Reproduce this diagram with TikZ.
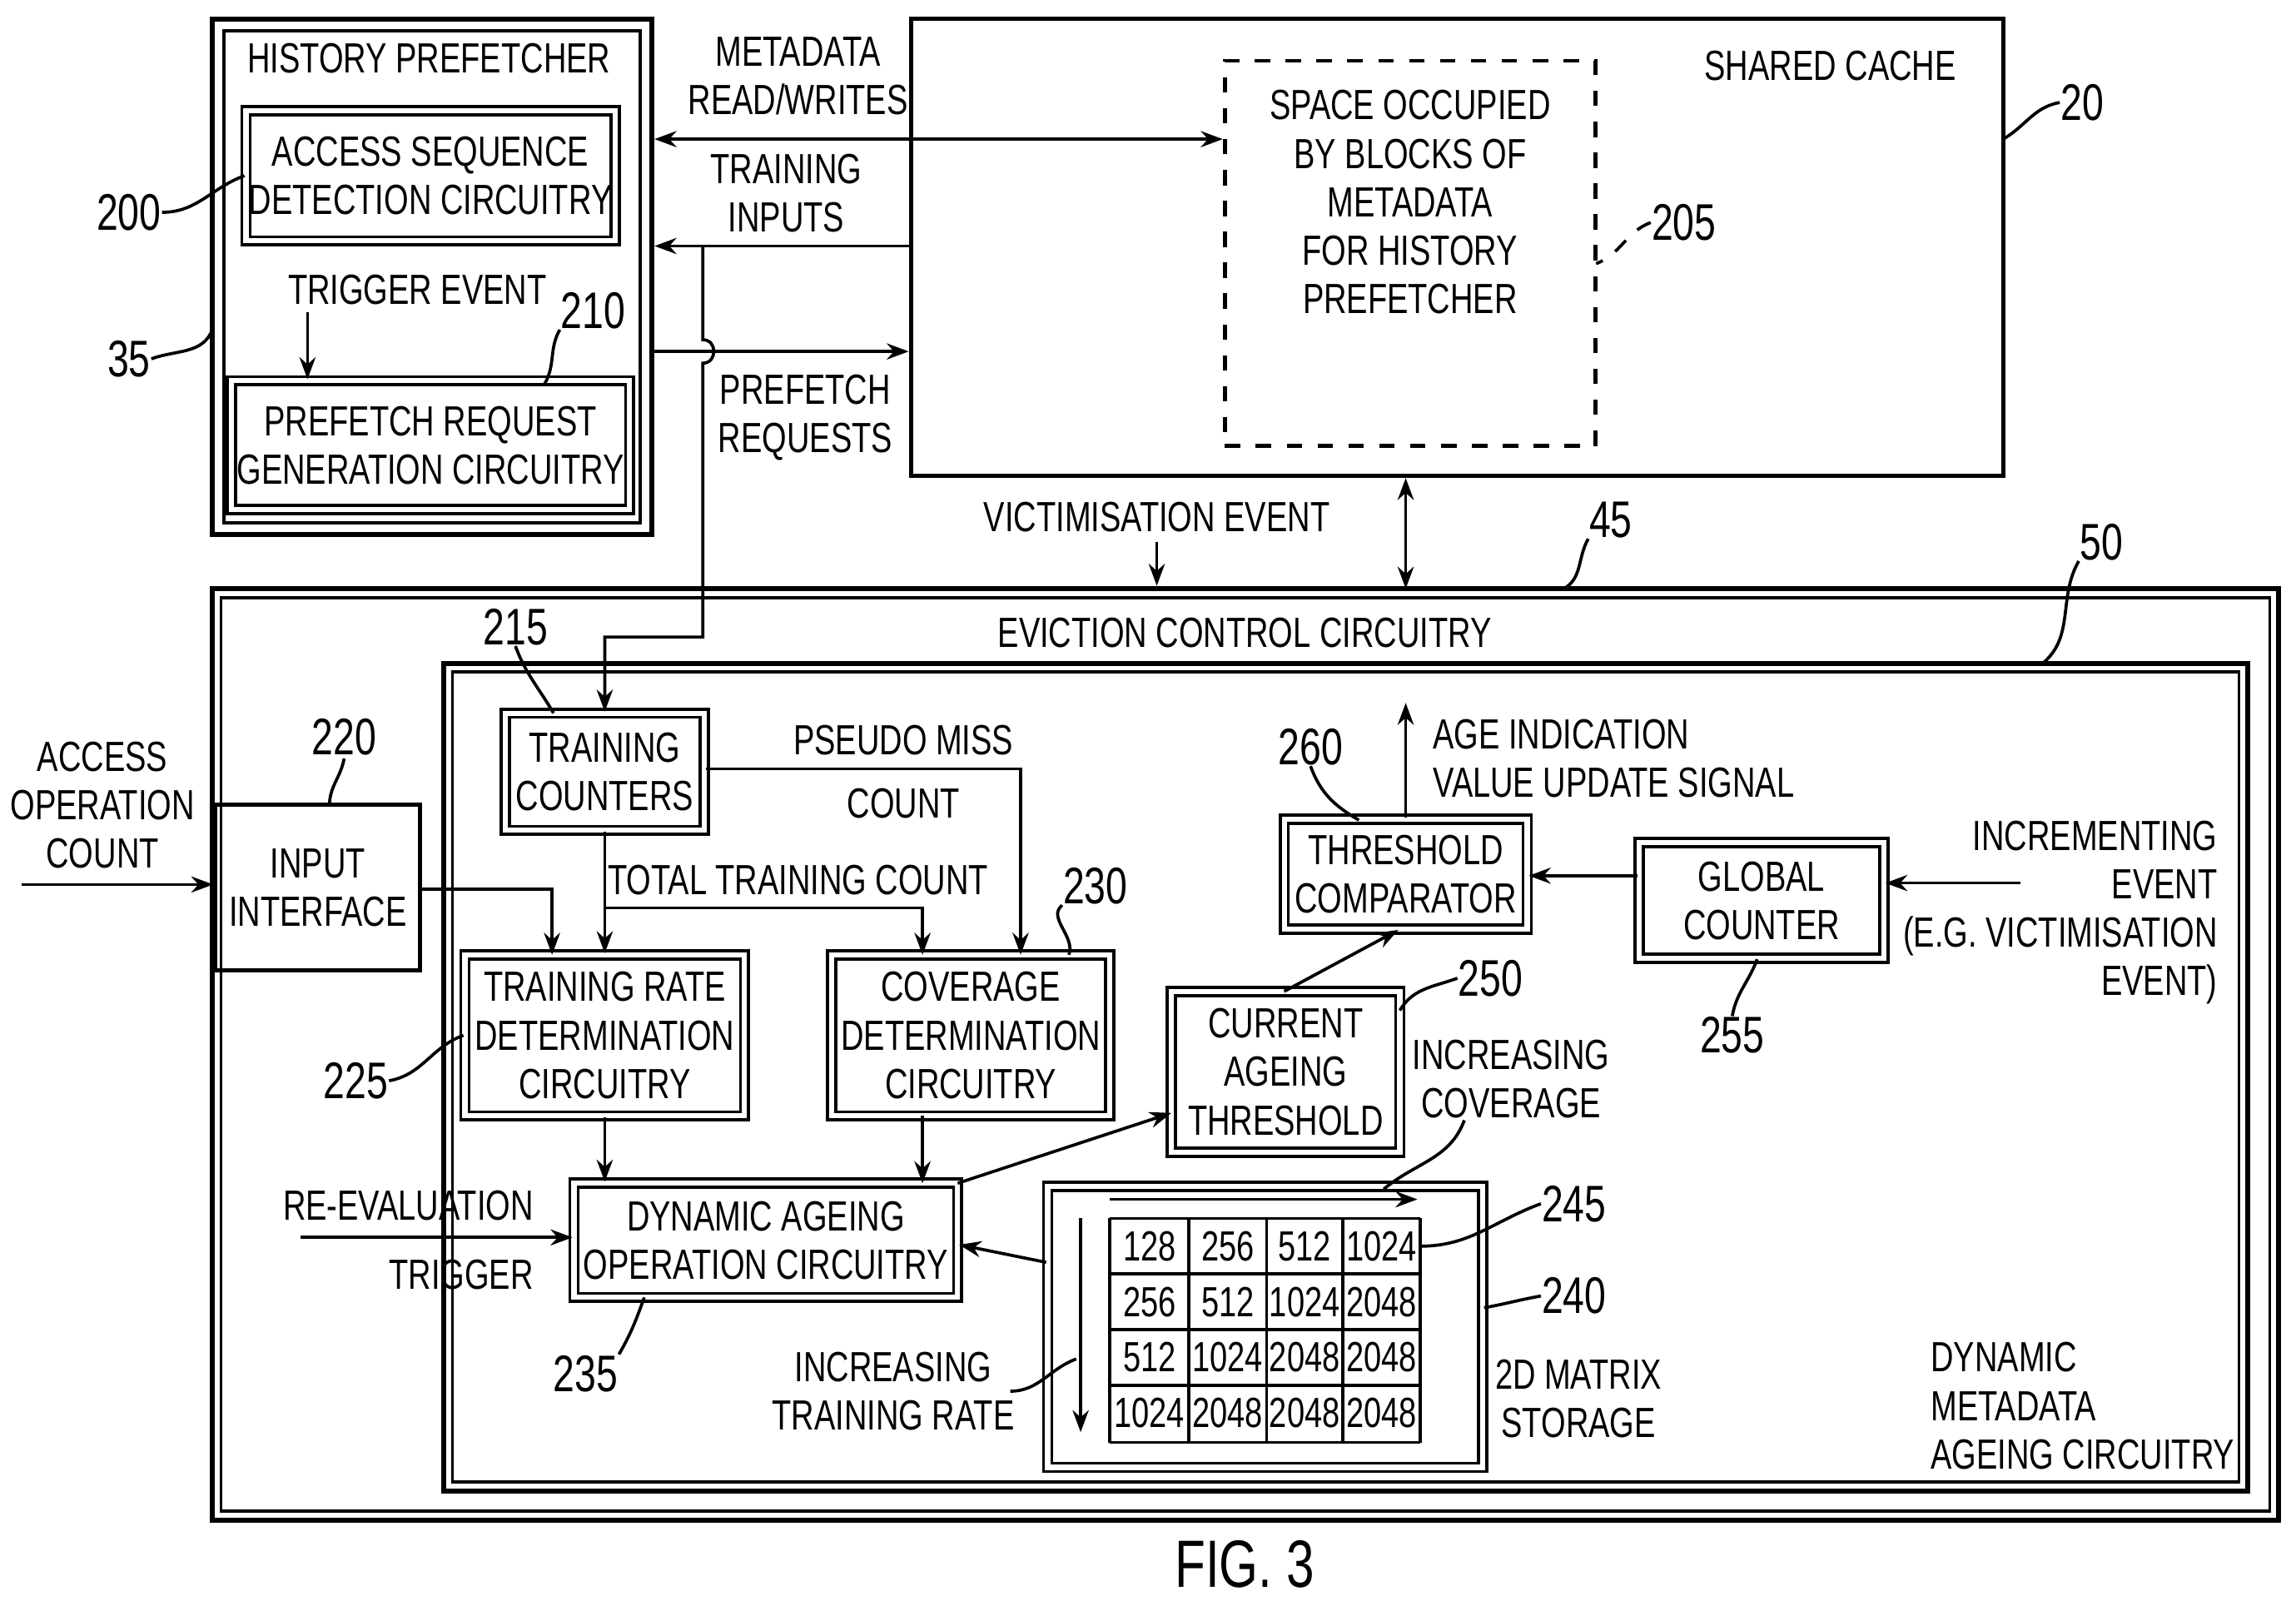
\documentclass[tikz,border=0pt]{standalone}
\usepackage{fontspec}
\setmainfont{Liberation Sans}[FakeStretch=0.75]
\usetikzlibrary{arrows.meta}
\begin{document}
\begin{tikzpicture}[x=0.1mm,y=-0.1mm,
  every node/.style={font=\fontsize{8.2}{9.4}\selectfont,align=center,inner sep=0pt},
  box/.style={draw,line width=0.6pt,double,double distance=0.35mm},
  sbox/.style={draw,line width=0.8pt},
  num/.style={font=\fontsize{10}{11}\selectfont},
  arr/.style={-{Stealth[length=1.5mm,width=1.1mm]},line width=0.6pt},
  darr/.style={{Stealth[length=1.5mm,width=1.1mm]}-{Stealth[length=1.5mm,width=1.1mm]},line width=0.6pt},
  ln/.style={line width=0.6pt}]
\useasboundingbox (0,0) rectangle (1568,1093);
% History prefetcher
\draw[line width=1pt] (145,13) rectangle (445,365);
\draw[line width=0.6pt] (153,21) rectangle (437,357);
\node at (293,40) {HISTORY PREFETCHER};
\node[box,minimum width=25.2mm,minimum height=8.9mm] (asd) at (294,120) {ACCESS SEQUENCE\\DETECTION CIRCUITRY};
\node at (285,198) {TRIGGER EVENT};
\coordinate (te) at (210,213);
\node[box,minimum width=27.2mm,minimum height=8.8mm] (prg) at (294,304) {PREFETCH REQUEST\\GENERATION CIRCUITRY};
\draw[arr] (te) -- (prg.north -| te);
\node[num] (n200) at (88,145) {200};
\draw[ln] (n200.east) to[out=0,in=200] (asd.west);
\node[num] (n210) at (405,212) {210};
\draw[ln] (n210.south west) to[out=240,in=60] (372,262);
\node[num] (n35) at (88,245) {35};
\draw[ln] (n35.east) to[out=20,in=250] (145,225);
% Shared cache
\node[sbox,minimum width=74.6mm,minimum height=31.2mm] (sc) at (995,169) {};
\node at (1250,45) {SHARED CACHE};
\node[draw,dashed,line width=0.8pt,minimum width=25.3mm,minimum height=26.3mm] (sp) at (963,173) {};
\node at (963,138) {SPACE OCCUPIED\\BY BLOCKS OF\\METADATA\\FOR HISTORY\\PREFETCHER};
\node[num] (n20) at (1422,70) {20};
\draw[ln] (n20.west) to[out=190,in=30] (1368,95);
\node[num] (n205) at (1150,152) {205};
\draw[ln,dashed] (n205.west) to[out=200,in=20] (1090,180);
% arrows between
\coordinate (mL) at (447,95);
\draw[darr] (mL) -- (sp.west |- mL);
\node at (545,52) {METADATA\\READ/WRITES};
\coordinate (tiL) at (447,168);
\draw[arr] (sc.west |- tiL) -- (tiL);
\node at (537,132) {TRAINING\\INPUTS};
\coordinate (prL) at (445,240);
\draw[arr] (prL) -- (sc.west |- prL);
\node at (550,285) {PREFETCH\\REQUESTS};
% Eviction control
\draw[line width=1pt] (145,402) rectangle (1556,1038);
\draw[line width=0.6pt] (151,408) rectangle (1550,1032);
\node at (850,432) {EVICTION CONTROL CIRCUITRY};
\node at (790,353) {VICTIMISATION EVENT};
\coordinate (ve) at (790,370);
\draw[arr] (ve) -- (790,400);
\draw[darr] (sc.south -| 960,0) -- (960,402);
\node[num] (n45) at (1100,355) {45};
\draw[ln] (n45.south west) to[out=240,in=30] (1068,402);
\node[num] (n50) at (1435,370) {50};
\draw[ln] (n50.south west) to[out=240,in=40] (1395,453);
% DMA
\draw[line width=1pt] (303,453) rectangle (1535,1018);
\draw[line width=0.6pt] (309,459) rectangle (1529,1012);
\node[box,minimum width=13.6mm,minimum height=8mm] (tc) at (413,527) {TRAINING\\COUNTERS};
\node[num] (n215) at (352,428) {215};
\draw[ln] (n215.south) to[out=290,in=120] (378,487);
\draw[arr] (480,168) -- (480,232) .. controls (490,232) and (490,248) .. (480,248) -- (480,435) -- (413,435) -- (tc.north);
\node[sbox,minimum width=14mm,minimum height=11.3mm] (ii) at (217,606) {INPUT\\INTERFACE};
\node[num] at (235,503) {220};
\draw[ln] (235,518) to[out=260,in=90] (225,550);
\node at (70,550) {ACCESS\\OPERATION\\COUNT};
\coordinate (aoc) at (15,604);
\draw[arr] (aoc) -- (ii.west |- aoc);
\node[box,minimum width=19.1mm,minimum height=11mm] (tr) at (413,707) {TRAINING RATE\\DETERMINATION\\CIRCUITRY};
\node[box,minimum width=19mm,minimum height=11mm] (cd) at (663,707) {COVERAGE\\DETERMINATION\\CIRCUITRY};
\draw[arr] (ii.east |- 0,607) -- (377,607) -- (377,652);
\draw[arr] (tc.east |- 0,525) -- (697,525) -- (697,652);
\node at (617,527) {PSEUDO MISS\\[3pt]COUNT};
\draw[arr] (tc.south) -- (tr.north);
\draw[arr] (413,620) -- (630,620) -- (630,652);
\node at (545,601) {TOTAL TRAINING COUNT};
\node[num] (n225) at (243,738) {225};
\draw[ln] (n225.east) to[out=10,in=200] (tr.west);
\node[num] (n230) at (748,605) {230};
\draw[ln] (n230.south west) to[out=220,in=70] (730,652);
\node[box,minimum width=26.2mm,minimum height=7.8mm] (da) at (523,847) {DYNAMIC AGEING\\OPERATION CIRCUITRY};
\draw[arr] (tr.south) -- (tr.south |- da.north);
\draw[arr] (630,762) -- (630,808);
\node[align=right,anchor=east] at (365,847) {RE-EVALUATION\\[4pt]TRIGGER};
\draw[arr] (205,845) -- (da.west |- 0,845);
\node[num] (n235) at (400,938) {235};
\draw[ln] (n235.north east) to[out=60,in=250] (440,886);
\node[box,minimum width=15.6mm,minimum height=11mm] (ca) at (878,732) {CURRENT\\AGEING\\THRESHOLD};
\node[num] (n250) at (1018,668) {250};
\draw[ln] (n250.west) to[out=200,in=60] (956,690);
\draw[arr] (654,808) -- (800,760);
\node[box,minimum width=16.6mm,minimum height=7.5mm] (tcmp) at (960,597) {THRESHOLD\\COMPARATOR};
\draw[arr] (877,677) -- (955,635);
\node[num] (n260) at (895,510) {260};
\draw[ln] (n260.south) to[out=290,in=150] (928,560);
\draw[arr] (tcmp.north) -- (960,480);
\node[align=left,anchor=west] at (978,518) {AGE INDICATION\\VALUE UPDATE SIGNAL};
\node[box,minimum width=16.7mm,minimum height=7.9mm] (gc) at (1203,615) {GLOBAL\\COUNTER};
\draw[arr] (gc.west |- 0,598) -- (tcmp.east |- 0,598);
\node[num] (n255) at (1183,707) {255};
\draw[ln] (n255.north) to[out=80,in=250] (1200,655);
\node[align=right,anchor=east] at (1515,623) {INCREMENTING\\EVENT\\(E.G. VICTIMISATION\\EVENT)};
\draw[arr] (1380,603) -- (gc.east |- 0,603);
% matrix
\node[box,minimum width=29.7mm,minimum height=19.2mm] (ms) at (864,906) {};
\draw[arr] (ms.west |- 0,862) -- (da.east |- 0,850);
\foreach \x in {758,812,865,917,970} \draw[ln] (\x,832) -- (\x,985);
\foreach \y in {832,870,908,946,985} \draw[ln] (758,\y) -- (970,\y);
\foreach \r/\a/\b/\c/\d in {1/128/256/512/1024,2/256/512/1024/2048,3/512/1024/2048/2048,4/1024/2048/2048/2048}{
 \node at (785,813+38*\r) {\a};
 \node at (838.5,813+38*\r) {\b};
 \node at (891,813+38*\r) {\c};
 \node at (943.5,813+38*\r) {\d};}
\draw[arr] (758,819) -- (968,819);
\draw[arr] (738,832) -- (738,978);
\node at (1032,737) {INCREASING\\COVERAGE};
\draw[ln] (1000,765) to[out=250,in=40] (945,812);
\node at (610,950) {INCREASING\\TRAINING RATE};
\draw[ln] (690,950) to[out=0,in=200] (735,928);
\node[num] (n245) at (1075,822) {245};
\draw[ln] (n245.west) to[out=200,in=0] (970,851);
\node[num] (n240) at (1075,885) {240};
\draw[ln] (n240.west) to[out=190,in=10] (ms.east |- 0,893);
\node at (1078,955) {2D MATRIX\\STORAGE};
\node[align=left,anchor=west] at (1318,960) {DYNAMIC\\METADATA\\AGEING CIRCUITRY};
\node[font=\fontsize{13}{14}\selectfont] at (850,1068) {FIG. 3};
\end{tikzpicture}
\end{document}
